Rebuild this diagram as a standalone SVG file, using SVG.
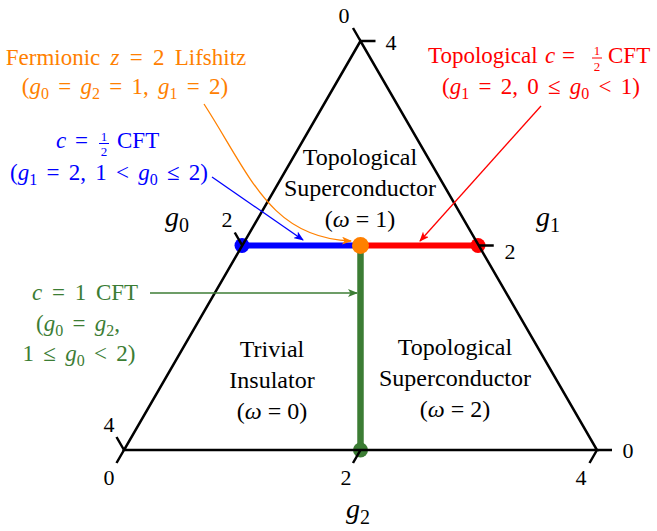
<svg xmlns="http://www.w3.org/2000/svg" width="657" height="531" viewBox="0 0 657 531">
<style>
text{font-family:"Liberation Serif","Times New Roman",serif;}
.reg{font-size:24px;text-anchor:middle;fill:#000;}
.ann{font-size:23px;}
.tk{font-size:22px;text-anchor:middle;fill:#000;}
.ax{font-size:28px;font-style:italic;fill:#000;}
.axs{font-size:20px;font-style:normal;}
.i{font-style:italic;}
.sub{font-size:16px;}
.fr{font-size:13px;text-anchor:middle;}
.m{word-spacing:3.5px;}
.tri{fill:none;stroke:#000;stroke-width:2.5;}
.tick{stroke:#000;stroke-width:2.5;}
.arr{fill:none;stroke-width:1.3;}
</style>
<defs>
<marker id="ah-o" viewBox="0 0 10 8" refX="9" refY="4" markerWidth="10" markerHeight="8" markerUnits="userSpaceOnUse" orient="auto"><path d="M0,0 L10,4 L0,8 L2.5,4 z" fill="#ff8000"/></marker>
<marker id="ah-r" viewBox="0 0 10 8" refX="9" refY="4" markerWidth="10" markerHeight="8" markerUnits="userSpaceOnUse" orient="auto"><path d="M0,0 L10,4 L0,8 L2.5,4 z" fill="#ff0000"/></marker>
<marker id="ah-b" viewBox="0 0 10 8" refX="9" refY="4" markerWidth="10" markerHeight="8" markerUnits="userSpaceOnUse" orient="auto"><path d="M0,0 L10,4 L0,8 L2.5,4 z" fill="#0000ff"/></marker>
<marker id="ah-g" viewBox="0 0 10 8" refX="9" refY="4" markerWidth="10" markerHeight="8" markerUnits="userSpaceOnUse" orient="auto"><path d="M0,0 L10,4 L0,8 L2.5,4 z" fill="#3c7d34"/></marker>
</defs>

<g id="phase-lines">
<line x1="242" y1="245.5" x2="360.5" y2="245.5" stroke="#0000ff" stroke-width="6"/>
<line x1="360.5" y1="245.5" x2="478.75" y2="245.5" stroke="#ff0000" stroke-width="6"/>
<line x1="360.5" y1="245.5" x2="360.5" y2="450" stroke="#3c7d34" stroke-width="6.5"/>
</g>
<g id="dot-blue"><circle cx="242" cy="245.5" r="7.5" fill="#0000ff"/></g>
<g id="dot-red"><circle cx="478" cy="245.5" r="7.5" fill="#ff0000"/></g>
<g id="dot-green"><circle cx="360.5" cy="450" r="7.5" fill="#3c7d34"/></g>
<g id="dot-orange"><circle cx="360.5" cy="245.5" r="8.5" fill="#ff8000"/></g>

<g id="triangle">
<path class="tri" d="M360.5,41 L124,450 L597,450 Z"/>
<path class="tick" d="M124,450 L116.5,437 M242.25,245.5 L234.75,232.5 M360.5,41 L353,28 M360.5,41 L375.5,41 M478.75,245.5 L493.75,245.5 M597,450 L612,450 M124,450 L116.5,463 M360.5,450 L353,463 M597,450 L589.5,463"/>
<text class="tk" x="109" y="432">4</text>
<text class="tk" x="227" y="227">2</text>
<text class="tk" x="344" y="23">0</text>
<text class="tk" x="391" y="50">4</text>
<text class="tk" x="510" y="259">2</text>
<text class="tk" x="628" y="458">0</text>
<text class="tk" x="109" y="485">0</text>
<text class="tk" x="346" y="485">2</text>
<text class="tk" x="581" y="485">4</text>
<text class="ax" x="165" y="226">g<tspan class="axs" dy="6">0</tspan></text>
<text class="ax" x="536" y="226">g<tspan class="axs" dy="6">1</tspan></text>
<text class="ax" x="346" y="518">g<tspan class="axs" dy="6">2</tspan></text>
</g>

<g id="region-ts1">
<text class="reg" x="360" y="165">Topological</text>
<text class="reg" x="360" y="196">Superconductor</text>
<text class="reg" x="360" y="227">(<tspan class="i">ω</tspan> = 1)</text>
</g>
<g id="region-trivial">
<text class="reg" x="272" y="357">Trivial</text>
<text class="reg" x="272" y="388">Insulator</text>
<text class="reg" x="272" y="419">(<tspan class="i">ω</tspan> = 0)</text>
</g>
<g id="region-ts2">
<text class="reg" x="455" y="355">Topological</text>
<text class="reg" x="455" y="386">Superconductor</text>
<text class="reg" x="455" y="417">(<tspan class="i">ω</tspan> = 2)</text>
</g>

<g id="label-lifshitz" fill="#ff8000">
<text class="ann" x="126" y="65" text-anchor="middle" style="word-spacing:4.5px">Fermionic <tspan class="i">z</tspan> = 2 Lifshitz</text>
<text class="ann m" x="125" y="94" text-anchor="middle">(<tspan class="i">g</tspan><tspan class="sub" dy="5">0</tspan><tspan dy="-5"> = </tspan><tspan class="i">g</tspan><tspan class="sub" dy="5">2</tspan><tspan dy="-5"> = 1, </tspan><tspan class="i">g</tspan><tspan class="sub" dy="5">1</tspan><tspan dy="-5"> = 2)</tspan></text>
</g>
<g id="label-topo-half" fill="#ff0000">
<text class="ann" x="428" y="63">Topological</text>
<text class="ann i" x="545" y="63">c</text>
<text class="ann" x="562" y="63">=</text>
<text class="fr" x="597" y="55">1</text>
<line x1="592" y1="58" x2="602" y2="58" stroke="#ff0000" stroke-width="1"/>
<text class="fr" x="597" y="70.5">2</text>
<text class="ann" x="608" y="63">CFT</text>
<text class="ann m" x="541" y="94" text-anchor="middle">(<tspan class="i">g</tspan><tspan class="sub" dy="5">1</tspan><tspan dy="-5"> = 2, 0 ≤ </tspan><tspan class="i">g</tspan><tspan class="sub" dy="5">0</tspan><tspan dy="-5"> &lt; 1)</tspan></text>
</g>
<g id="label-half" fill="#0000ff">
<text class="ann i" x="56" y="148">c</text>
<text class="ann" x="75" y="148">=</text>
<text class="fr" x="104" y="140.5">1</text>
<line x1="99" y1="143.5" x2="109" y2="143.5" stroke="#0000ff" stroke-width="1"/>
<text class="fr" x="104" y="156">2</text>
<text class="ann" x="117" y="148">CFT</text>
<text class="ann m" x="109" y="180" text-anchor="middle">(<tspan class="i">g</tspan><tspan class="sub" dy="5">1</tspan><tspan dy="-5"> = 2, 1 &lt; </tspan><tspan class="i">g</tspan><tspan class="sub" dy="5">0</tspan><tspan dy="-5"> ≤ 2)</tspan></text>
</g>
<g id="label-one" fill="#3c7d34">
<text class="ann" x="85" y="300" text-anchor="middle" style="word-spacing:4px"><tspan class="i">c</tspan> = 1 CFT</text>
<text class="ann m" x="78" y="331" text-anchor="middle">(<tspan class="i">g</tspan><tspan class="sub" dy="5">0</tspan><tspan dy="-5"> = </tspan><tspan class="i">g</tspan><tspan class="sub" dy="5">2</tspan><tspan dy="-5">,</tspan></text>
<text class="ann m" x="79" y="361" text-anchor="middle">1 ≤ <tspan class="i">g</tspan><tspan class="sub" dy="5">0</tspan><tspan dy="-5"> &lt; 2)</tspan></text>
</g>

<g id="connectors">
<path class="arr" stroke="#ff8000" d="M204,104 C250,175 270,238 351,241" marker-end="url(#ah-o)"/>
<path class="arr" stroke="#0000ff" d="M212,177 L303,240" marker-end="url(#ah-b)"/>
<path class="arr" stroke="#ff0000" d="M541,106 L420,241" marker-end="url(#ah-r)"/>
<path class="arr" stroke="#3c7d34" d="M150,293 L357,293" marker-end="url(#ah-g)"/>
</g>
</svg>
